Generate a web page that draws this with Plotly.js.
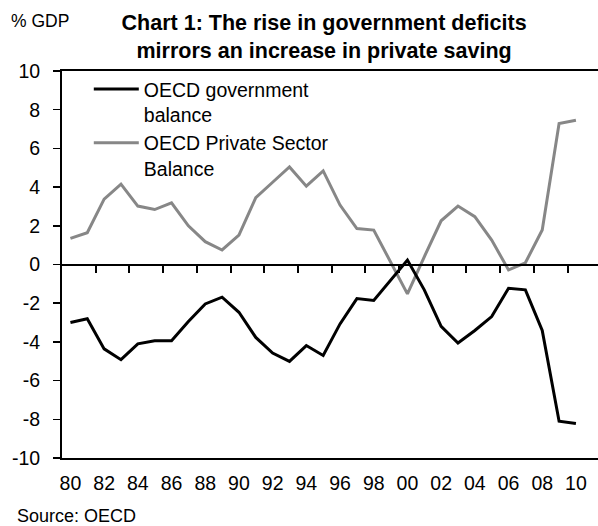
<!DOCTYPE html>
<html>
<head>
<meta charset="utf-8">
<script src="https://cdn.plot.ly/plotly-3.0.1.min.js"></script>
<style>html,body{margin:0;padding:0;background:#fff;}#chart{width:598px;height:526px;}</style>
</head>
<body>
<div id="chart"></div>
<script>
// Data (% of GDP)
const years = [1980,1981,1982,1983,1984,1985,1986,1987,1988,1989,1990,1991,1992,1993,1994,1995,1996,1997,1998,1999,2000,2001,2002,2003,2004,2005,2006,2007,2008,2009,2010];
const govBalance = [-3.0,-2.8,-4.36,-4.92,-4.1,-3.94,-3.94,-2.95,-2.04,-1.69,-2.47,-3.77,-4.58,-5.01,-4.19,-4.70,-3.07,-1.76,-1.86,-0.80,0.23,-1.31,-3.20,-4.06,-3.41,-2.69,-1.23,-1.31,-3.41,-8.10,-8.22];
const privateBalance = [1.35,1.64,3.38,4.15,3.02,2.84,3.19,2.0,1.18,0.75,1.52,3.46,4.25,5.04,4.05,4.84,3.07,1.86,1.78,0.10,-1.52,0.40,2.26,3.02,2.47,1.26,-0.28,0.09,1.78,7.28,7.45];
const xTickVals = [1980,1982,1984,1986,1988,1990,1992,1994,1996,1998,2000,2002,2004,2006,2008,2010];
const xTickText = ['80','82','84','86','88','90','92','94','96','98','00','02','04','06','08','10'];
const yTickVals = [-10,-8,-6,-4,-2,0,2,4,6,8,10];
const yTickText = ['-10','-8','-6','-4','-2','0','2','4','6','8','10'];
const zeroTickVals = [1981.5,1983.5,1985.5,1987.5,1989.5,1991.5,1993.5,1995.5,1997.5,1999.5,2001.5,2003.5,2005.5,2007.5,2009.5];

const FONT = 'Liberation Sans, Arial, sans-serif';
const xRange = [1979.5, 2011.31];

const traces = [
  {x: years, y: privateBalance, type: 'scatter', mode: 'lines', name: 'OECD Private Sector<br>Balance',
   line: {color: '#878787', width: 3}, legendrank: 2},
  {x: years, y: govBalance, type: 'scatter', mode: 'lines', name: 'OECD government<br>balance',
   line: {color: '#000000', width: 3}, legendrank: 1},
  {x: [], y: [], xaxis: 'x2', yaxis: 'y', showlegend: false, hoverinfo: 'skip'}
];

const layout = {
  width: 598, height: 526,
  paper_bgcolor: '#fff', plot_bgcolor: '#fff',
  margin: {l: 62, r: 0, t: 71, b: 68},
  font: {family: FONT, color: '#000'},
  title: {text: '<b>Chart 1: The rise in government deficits<br>mirrors an increase in private saving</b>',
          font: {family: FONT, size: 21.5, color: '#000'},
          x: 0.542, xanchor: 'center', y: 1 - 30/526, yanchor: 'middle'},
  showlegend: true,
  legend: {x: 0.05, y: 1.003, xanchor: 'left', yanchor: 'top', bgcolor: 'rgba(0,0,0,0)', itemwidth: 45,
           font: {family: FONT, size: 19.5, color: '#000'}, valign: 'top', tracegroupgap: 0},
  xaxis: {range: xRange, tickvals: xTickVals, ticktext: xTickText, ticks: '', showgrid: false, zeroline: false,
          showline: true, mirror: true, linecolor: '#000', linewidth: 2,
          tickfont: {family: FONT, size: 19.5, color: '#000'}, ticklabelstandoff: 7, fixedrange: true},
  xaxis2: {range: xRange, overlaying: 'x', anchor: 'free', position: 0.5, side: 'bottom',
           tickvals: zeroTickVals, ticks: 'outside', ticklen: 7, tickwidth: 2, tickcolor: '#000',
           showticklabels: false, showgrid: false, zeroline: false, showline: true, linecolor: '#000', linewidth: 2},
  yaxis: {range: [-10, 10], tickvals: yTickVals, ticktext: yTickText, ticks: 'outside', ticklen: 7, tickwidth: 1.5,
          tickcolor: '#000', showgrid: false, zeroline: false, showline: true, linecolor: '#000', linewidth: 2,
          tickfont: {family: FONT, size: 19.5, color: '#000'}, ticklabelstandoff: 9},
  annotations: [
    {text: '% GDP', xref: 'paper', yref: 'paper', x: -62/536 + 9/536, y: 1 + (71-21)/387, xanchor: 'left', yanchor: 'middle',
     showarrow: false, font: {family: FONT, size: 17.5, color: '#000'}},
    {text: 'Source: OECD', xref: 'paper', yref: 'paper', x: -62/536 + 15/536, y: -(516-458)/387, xanchor: 'left', yanchor: 'middle',
     showarrow: false, font: {family: FONT, size: 18, color: '#000'}}
  ]
};

Plotly.newPlot('chart', traces, layout, {displayModeBar: false, staticPlot: true});
</script>
</body>
</html>
